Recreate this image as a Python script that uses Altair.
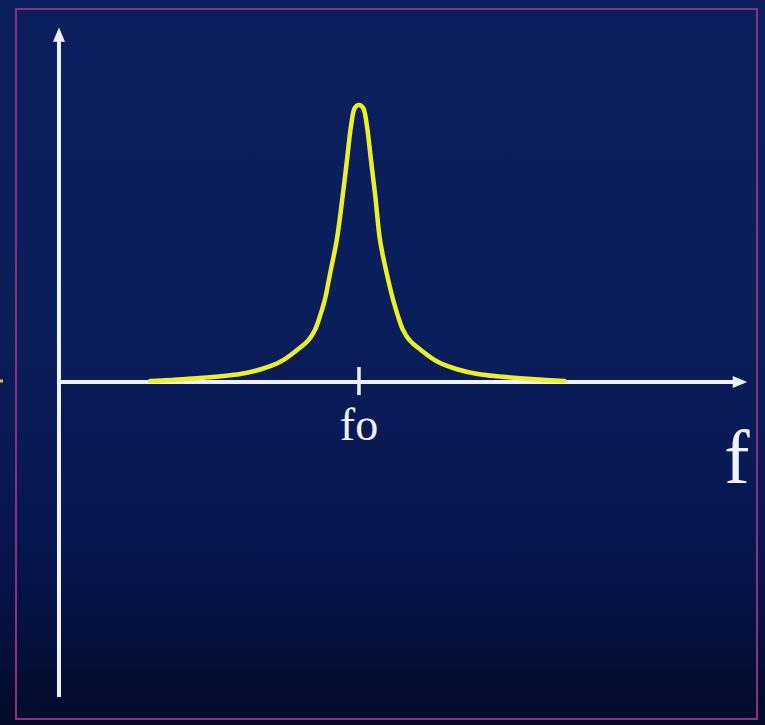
import altair as alt
import pandas as pd

# Resonance curve: amplitude vs frequency, peak at the resonant frequency fo
fo = 5.0
freq_left = [1.52, 2.30, 3.02, 3.38, 3.68, 3.97, 4.16, 4.27, 4.35, 4.43, 4.53, 4.63, 4.73, 4.80, 4.87, 4.93, 5.00]
amp_left = [0.004, 0.014, 0.029, 0.047, 0.072, 0.116, 0.152, 0.190, 0.238, 0.296, 0.404, 0.513, 0.675, 0.801, 0.928, 0.989, 1.000]
freq_right = [5.07, 5.13, 5.20, 5.27, 5.35, 5.45, 5.57, 5.65, 5.73, 5.84, 6.03, 6.32, 6.62, 6.98, 7.68, 8.43]
amp_right = [0.989, 0.928, 0.801, 0.675, 0.513, 0.404, 0.296, 0.238, 0.190, 0.152, 0.116, 0.072, 0.047, 0.029, 0.014, 0.004]

# Axis extents in data units
x_axis_end = 11.47
y_axis_top = 1.28
y_axis_bottom = -1.137

W, H = 765, 725
x_dom = [-0.983, 11.767]
y_dom = [-1.238, 1.379]

xs = alt.Scale(domain=x_dom, nice=False, zero=False)
ys = alt.Scale(domain=y_dom, nice=False, zero=False)

curve = pd.DataFrame({
    "f": freq_left + freq_right,
    "a": amp_left + amp_right,
    "i": list(range(len(freq_left) + len(freq_right))),
})

ink = "#eef2ff"
yellow = "#ecef2a"

background = alt.Chart(pd.DataFrame({"k": [0]})).mark_rect(
    fill=alt.Gradient(
        gradient="linear",
        x1=0, x2=0, y1=0, y2=1,
        stops=[
            alt.GradientStop(color="#0b1f5e", offset=0.0),
            alt.GradientStop(color="#0a1e5a", offset=0.45),
            alt.GradientStop(color="#071650", offset=0.75),
            alt.GradientStop(color="#030b2a", offset=1.0),
        ],
    )
).encode(x=alt.value(0), x2=alt.value(W), y=alt.value(0), y2=alt.value(H))

frame = alt.Chart(pd.DataFrame({"k": [0]})).mark_rect(
    fill=None, stroke="#8a3280", strokeWidth=2
).encode(x=alt.value(16), x2=alt.value(757), y=alt.value(9), y2=alt.value(719))

axes = alt.Chart(pd.DataFrame({
    "x": [0.0, 0.0],
    "y": [y_axis_bottom, 0.0],
    "x2": [0.0, x_axis_end - 0.15],
    "y2": [y_axis_top - 0.04, 0.0],
})).mark_rule(color=ink, strokeWidth=4).encode(
    x=alt.X("x:Q", scale=xs, axis=None),
    y=alt.Y("y:Q", scale=ys, axis=None),
    x2="x2:Q",
    y2="y2:Q",
)

arrow_up = alt.Chart(pd.DataFrame({"x": [0.0], "y": [y_axis_top]})).mark_point(
    shape="M0,0L-1,2.4L1,2.4Z", size=144, filled=True, opacity=1, color=ink
).encode(x=alt.X("x:Q", scale=xs), y=alt.Y("y:Q", scale=ys))

arrow_right = alt.Chart(pd.DataFrame({"x": [x_axis_end], "y": [0.0]})).mark_point(
    shape="M0,0L-2.4,-1L-2.4,1Z", size=144, filled=True, opacity=1, color=ink
).encode(x=alt.X("x:Q", scale=xs), y=alt.Y("y:Q", scale=ys))

tick = alt.Chart(pd.DataFrame({"x": [fo], "y": [0.054], "y2": [-0.047]})).mark_rule(
    color=ink, strokeWidth=3.5
).encode(x=alt.X("x:Q", scale=xs), y=alt.Y("y:Q", scale=ys), y2="y2:Q")

line = alt.Chart(curve).mark_line(
    color=yellow, strokeWidth=4.5, interpolate="catmull-rom", strokeCap="round", strokeJoin="round"
).encode(
    x=alt.X("f:Q", scale=xs),
    y=alt.Y("a:Q", scale=ys),
    order="i:Q",
)

fo_label = alt.Chart(pd.DataFrame({"x": [fo], "y": [-0.209], "t": ["fo"]})).mark_text(
    font="Liberation Serif", fontSize=46, color=ink, align="center", baseline="alphabetic"
).encode(x=alt.X("x:Q", scale=xs), y=alt.Y("y:Q", scale=ys), text="t:N")

f_label = alt.Chart(pd.DataFrame({"x": [11.3], "y": [-0.365], "t": ["f"]})).mark_text(
    font="Liberation Serif", fontSize=76, color=ink, align="center", baseline="alphabetic"
).encode(x=alt.X("x:Q", scale=xs), y=alt.Y("y:Q", scale=ys), text="t:N")

edge_mark = alt.Chart(pd.DataFrame({"k": [0]})).mark_rule(
    color="#d8c23a", strokeWidth=3
).encode(x=alt.value(0), x2=alt.value(3), y=alt.value(381))

chart = alt.layer(
    background, frame, axes, arrow_up, arrow_right, tick, line, fo_label, f_label, edge_mark
).properties(
    width=W, height=H, padding=0, autosize=alt.AutoSizeParams(type="none")
).configure_view(stroke=None).configure(background="#0a1e5a")

chart.save("out.html", embed_options={"renderer": "svg", "actions": False})
